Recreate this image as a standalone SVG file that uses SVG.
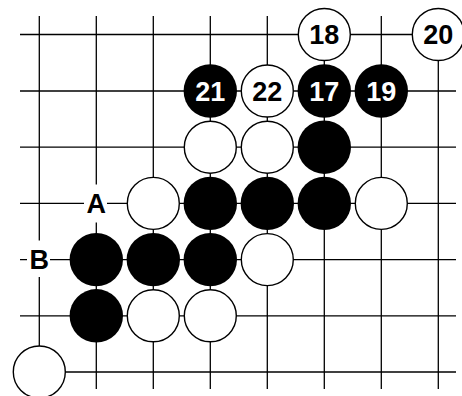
<svg xmlns="http://www.w3.org/2000/svg" width="462" height="396" viewBox="0 0 462 396">
<style>
.g{stroke:#000;stroke-width:1.3;fill:none}
.b{fill:#000}
.w{fill:#fff;stroke:#000;stroke-width:1.4}
.t{font-family:"Liberation Sans",Arial,sans-serif;font-weight:bold;font-size:27px;text-anchor:middle}
.tb{fill:#fff}
.tw{fill:#000}
.lb{fill:#fff}
</style>
<rect width="462" height="396" fill="#fff"/>
<g id="grid" class="g">
<line x1="20" y1="34.5" x2="456" y2="34.5"/>
<line x1="20" y1="91" x2="456" y2="91"/>
<line x1="20" y1="147.2" x2="456" y2="147.2"/>
<line x1="20" y1="203.4" x2="456" y2="203.4"/>
<line x1="20" y1="259.6" x2="456" y2="259.6"/>
<line x1="20" y1="315.8" x2="456" y2="315.8"/>
<line x1="20" y1="372" x2="456" y2="372"/>
<line x1="39.3" y1="16" x2="39.3" y2="389"/>
<line x1="96.3" y1="16" x2="96.3" y2="389"/>
<line x1="153.3" y1="16" x2="153.3" y2="389"/>
<line x1="210.3" y1="16" x2="210.3" y2="389"/>
<line x1="267.3" y1="16" x2="267.3" y2="389"/>
<line x1="324.3" y1="16" x2="324.3" y2="389"/>
<line x1="381.3" y1="16" x2="381.3" y2="389"/>
<line x1="438.3" y1="16" x2="438.3" y2="389"/>
</g>
<g id="s18"><circle class="w" cx="324.3" cy="34.5" r="26"/><text class="t tw" x="324.3" y="44.4">18</text></g>
<g id="s20"><circle class="w" cx="438.3" cy="34.5" r="26"/><text class="t tw" x="438.3" y="44.4">20</text></g>
<g id="s21"><circle class="b" cx="210.3" cy="91" r="26.7"/><text class="t tb" x="210.3" y="101.1">21</text></g>
<g id="s22"><circle class="w" cx="267.3" cy="91" r="26"/><text class="t tw" x="267.3" y="101.1">22</text></g>
<g id="s17"><circle class="b" cx="324.3" cy="91" r="26.7"/><text class="t tb" x="324.3" y="101.1">17</text></g>
<g id="s19"><circle class="b" cx="381.3" cy="91" r="26.7"/><text class="t tb" x="381.3" y="101.1">19</text></g>
<g id="w_r2c3"><circle class="w" cx="210.3" cy="147.2" r="26"/></g>
<g id="w_r2c4"><circle class="w" cx="267.3" cy="147.2" r="26"/></g>
<g id="b_r2c5"><circle class="b" cx="324.3" cy="147.2" r="26.7"/></g>
<g id="labelA"><rect class="lb" x="84" y="184.5" width="23" height="38"/><text class="t tw" x="96.3" y="212.5">A</text></g>
<g id="w_r3c2"><circle class="w" cx="153.3" cy="203.4" r="26"/></g>
<g id="b_r3c3"><circle class="b" cx="210.3" cy="203.4" r="26.7"/></g>
<g id="b_r3c4"><circle class="b" cx="267.3" cy="203.4" r="26.7"/></g>
<g id="b_r3c5"><circle class="b" cx="324.3" cy="203.4" r="26.7"/></g>
<g id="w_r3c6"><circle class="w" cx="381.3" cy="203.4" r="26"/></g>
<g id="labelB"><rect class="lb" x="27" y="240.5" width="23" height="36.5"/><text class="t tw" x="39.3" y="269.2">B</text></g>
<g id="b_r4c1"><circle class="b" cx="96.3" cy="259.6" r="26.7"/></g>
<g id="b_r4c2"><circle class="b" cx="153.3" cy="259.6" r="26.7"/></g>
<g id="b_r4c3"><circle class="b" cx="210.3" cy="259.6" r="26.7"/></g>
<g id="w_r4c4"><circle class="w" cx="267.3" cy="259.6" r="26"/></g>
<g id="b_r5c1"><circle class="b" cx="96.3" cy="315.8" r="26.7"/></g>
<g id="w_r5c2"><circle class="w" cx="153.3" cy="315.8" r="26"/></g>
<g id="w_r5c3"><circle class="w" cx="210.3" cy="315.8" r="26"/></g>
<g id="w_r6c0"><circle class="w" cx="39.3" cy="372" r="26"/></g>
</svg>
